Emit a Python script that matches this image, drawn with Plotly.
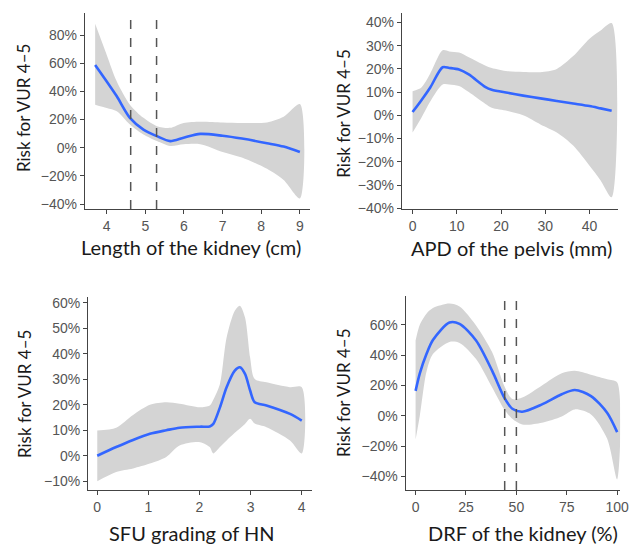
import plotly.graph_objects as go

# ---------------- data ----------------
# Panel A: Length of the kidney (cm)
len_x = [3.7, 4.0, 4.26, 4.6, 4.95, 5.3, 5.64, 5.99, 6.42, 7.0, 7.5, 8.15, 8.58, 9.0]
len_fit = [58.8, 47, 36.5, 21.2, 12.9, 8.2, 4.7, 7.1, 9.8, 8.5, 6.5, 3.2, 0.8, -3]
len_up = [88, 65.9, 47, 30.6, 21.2, 15.3, 14.1, 17.6, 18.5, 18, 17.6, 18, 22, 31]
len_lo = [30.6, 28.2, 25.9, 16.5, 9.4, 4.7, 1.2, 2.4, 2.5, -3, -7, -15, -23, -36]
len_vlines = [4.62, 5.29]

# Panel B: APD of the pelvis (mm)
apd_x = [0, 2, 4, 6.8, 8.3, 10.5, 12.7, 16.4, 17.9, 21.5, 25, 28.9, 32.6, 36.3, 40, 42.5, 45]
apd_fit = [1.4, 6.5, 12, 20.7, 20.4, 19.7, 17.6, 12.3, 11, 9.7, 8.5, 7.3, 6.2, 5.1, 4, 3, 2]
apd_up = [10.4, 12, 18, 28, 27.5, 27, 25, 21.5, 20.4, 19, 18.7, 18.6, 20, 25.5, 33, 36.5, 39.7]
apd_lo = [-7.4, -1, 6, 13.3, 13.3, 12.6, 10, 5, 3.3, 1.9, 0, -3.9, -7.4, -13, -21.7, -28, -35.3]

# Panel C: SFU grading of HN
sfu_x = [0, 0.37, 0.7, 1.03, 1.35, 1.61, 2.01, 2.2, 2.27, 2.4, 2.53, 2.69, 2.79, 2.89, 2.99, 3.08, 3.31, 3.77, 4.0]
sfu_fit = [0, 3.4, 6.2, 8.6, 10, 11, 11.4, 11.5, 12.5, 19, 26.9, 33.4, 34.7, 32.1, 25.6, 21, 19.7, 16.4, 13.8]
sfu_up = [9.9, 11, 16, 20, 21, 20.4, 19, 19.7, 22, 28.2, 46.4, 56.9, 58.9, 54.3, 38.6, 30.1, 28.8, 26.9, 26.9]
sfu_lo = [-10, -6.4, -5, -3.1, -0.5, 4, 5.3, 3.4, 0.9, 3.4, 6, 9, 10.7, 12.5, 14.5, 12.6, 11.2, 6, 0.9]

# Panel D: DRF of the kidney (%)
drf_x = [0, 2.1, 5.4, 8.6, 16.8, 21.8, 30, 38, 44, 48, 52.9, 62.7, 72.5, 79, 87, 95, 100]
drf_fit = [16.4, 28, 40.7, 50, 61.5, 60.6, 49.6, 29.6, 12, 4.6, 2.7, 7.5, 14.2, 17, 13, 2, -10.8]
drf_up = [49.6, 60, 67.3, 71, 74, 72, 59.5, 41.8, 19.7, 11, 12, 20, 28, 29.6, 27, 24, 21.9]
drf_lo = [-15.6, 0, 29, 40.7, 48.7, 48, 37.4, 18.6, 4.2, -2, -5.8, -4.6, -0.5, 4.2, 0.9, -15, -42]
drf_vlines = [44.2, 50]

x_titles = ["Length of the kidney (cm)", "APD of the pelvis (mm)",
            "SFU grading of HN", "DRF of the kidney (%)"]
y_title = "Risk for VUR 4\u20135"

# ---------------- figure ----------------
BLUE = "#3366FF"
GREY_FILL = "#d4d4d4"
TICK_FONT = dict(family="Liberation Sans", size=14, color="#555555")
TITLE_FONT = dict(family="Lato", size=20, color="#1a1a1a")

fig = go.Figure()

panels = [
    (len_x, len_fit, len_up, len_lo, "x", "y"),
    (apd_x, apd_fit, apd_up, apd_lo, "x2", "y2"),
    (sfu_x, sfu_fit, sfu_up, sfu_lo, "x3", "y3"),
    (drf_x, drf_fit, drf_up, drf_lo, "x4", "y4"),
]
for xs, fit, up, lo, xa, ya in panels:
    fig.add_trace(go.Scatter(
        x=list(xs) + list(xs)[::-1], y=list(up) + list(lo)[::-1],
        fill="toself", fillcolor=GREY_FILL, line=dict(width=0, shape="spline", smoothing=0.8),
        mode="lines", hoverinfo="skip", showlegend=False, xaxis=xa, yaxis=ya))
    fig.add_trace(go.Scatter(
        x=xs, y=fit, mode="lines", line=dict(color=BLUE, width=2.6, shape="spline", smoothing=0.8),
        showlegend=False, xaxis=xa, yaxis=ya))

for v in len_vlines:
    fig.add_shape(type="line", xref="x", yref="y domain", x0=v, x1=v, y0=0, y1=1,
                  line=dict(color="#555555", width=1.5, dash="dash"))
for v in drf_vlines:
    fig.add_shape(type="line", xref="x4", yref="y4 domain", x0=v, x1=v, y0=0, y1=1,
                  line=dict(color="#555555", width=1.5, dash="dash"))

axis_common = dict(showline=True, linecolor="#444444", linewidth=1.2, ticks="outside",
                   ticklen=4, tickcolor="#444444", showgrid=False, zeroline=False,
                   tickfont=TICK_FONT, automargin=False, ticklabeloverflow="allow")

fig.update_layout(
    width=629, height=547, margin=dict(l=0, r=0, t=0, b=0, autoexpand=False),
    paper_bgcolor="white", plot_bgcolor="white",
    xaxis=dict(domain=[0.135, 0.493], anchor="y", range=[3.435, 9.265], dtick=1, **axis_common),
    yaxis=dict(domain=[0.618, 0.976], anchor="x", range=[-43.5, 95.6], dtick=20, ticksuffix="%", **axis_common),
    xaxis2=dict(domain=[0.639, 0.983], anchor="y2", range=[-2.4, 46.5], dtick=10, **axis_common),
    yaxis2=dict(domain=[0.618, 0.976], anchor="x2", range=[-40.3, 44], dtick=10, ticksuffix="%", **axis_common),
    xaxis3=dict(domain=[0.140, 0.496], anchor="y3", range=[-0.18, 4.2], dtick=1, **axis_common),
    yaxis3=dict(domain=[0.104, 0.457], anchor="x3", range=[-13.5, 62.3], dtick=10, ticksuffix="%", **axis_common),
    xaxis4=dict(domain=[0.645, 0.986], anchor="y4", range=[-4.9, 101.5], dtick=25, **axis_common),
    yaxis4=dict(domain=[0.104, 0.459], anchor="x4", range=[-49, 79], dtick=20, ticksuffix="%", **axis_common),
)

xt_pos = [(0.303, 0.548), (0.813, 0.546), (0.305, 0.026), (0.831, 0.026)]
for (px, py), t in zip(xt_pos, x_titles):
    fig.add_annotation(x=px, y=py, xref="paper", yref="paper", text=t, showarrow=False,
                       font=TITLE_FONT, xanchor="center", yanchor="middle")

yt_pos = [(0.037, 0.803), (0.546, 0.793), (0.040, 0.280), (0.546, 0.2825)]
for px, py in yt_pos:
    fig.add_annotation(x=px, y=py, xref="paper", yref="paper", text=y_title, showarrow=False,
                       textangle=-90, font=dict(family="Lato", size=17, color="#1a1a1a"),
                       xanchor="center", yanchor="middle")

fig.write_html("out.html", config={"displayModeBar": False},
               post_script="document.body.style.margin='0px';document.body.style.overflow='hidden';")
